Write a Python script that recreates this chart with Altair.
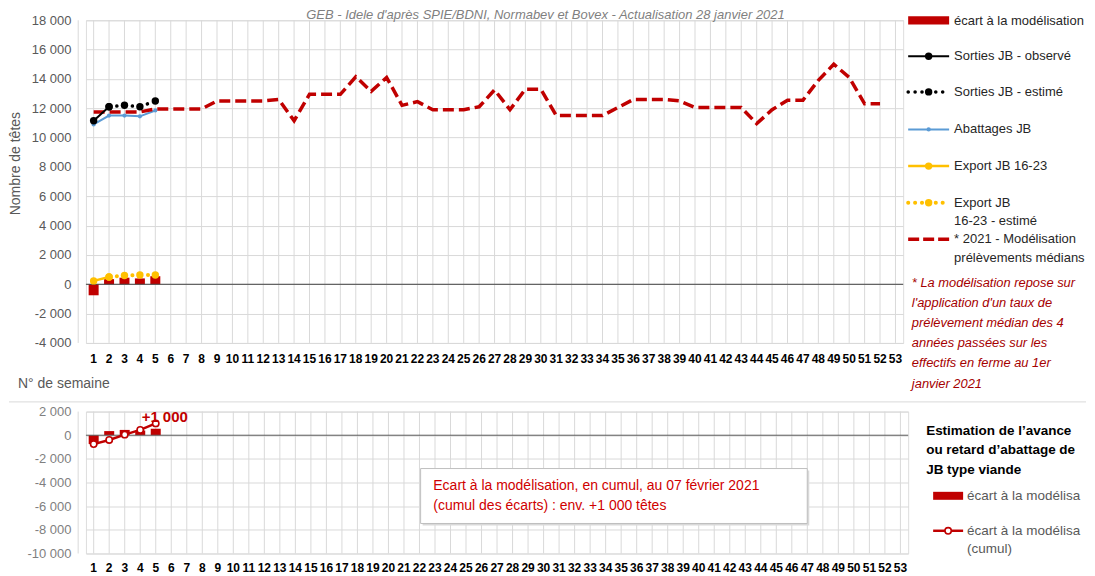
import altair as alt
import pandas as pd

# ---------------- data ----------------
weeks = list(range(1, 54))
model_weeks = list(range(1, 53))
model = [11750, 11750, 11750, 11750, 11950, 11950, 11950, 11950,
         12500, 12500, 12500, 12500, 12600, 11150, 12950, 12950,
         12950, 14150, 13150, 14100, 12200, 12450, 11900, 11900,
         11900, 12100, 13250, 11900, 13300, 13300, 11500, 11500,
         11500, 11500, 12050, 12600, 12600, 12600, 12500, 12050,
         12050, 12050, 12050, 10950, 11900, 12550, 12550, 13900,
         15000, 14100, 12300, 12300]
ecart_weeks = [1, 2, 3, 4, 5]
ecart = [-750, 350, 450, 400, 550]
cumul = [-750, -400, 50, 450, 1000]
sorties_obs_weeks = [1, 2]
sorties_obs = [11150, 12100]
sorties_est_weeks = [2, 3, 4, 5]
sorties_est = [12100, 12200, 12100, 12500]
abattages_weeks = [1, 2, 3, 4, 5]
abattages = [10900, 11500, 11500, 11450, 11850]
export_obs_weeks = [1, 2]
export_obs = [230, 500]
export_est_weeks = [2, 3, 4, 5]
export_est = [500, 600, 630, 630]

top_ticks = list(range(-4000, 18001, 2000))
bottom_ticks = list(range(-10000, 2001, 2000))

title_text = "GEB - Idele d'après SPIE/BDNI, Normabev et Bovex - Actualisation  28 janvier 2021"
top_legend_labels = ["écart à la modélisation", "Sorties JB - observé", "Sorties JB - estimé",
                     "Abattages JB", "Export JB 16-23", "Export JB\n16-23 - estimé",
                     "* 2021 - Modélisation\nprélèvements médians"]
footnote_lines = ["* La modélisation repose sur", "l'application  d'un taux de",
                  "prélèvement  médian des 4", "années  passées sur les",
                  "effectifs en ferme au 1er", "janvier 2021"]
bottom_legend_title = ["Estimation de l’avance", "ou retard d’abattage de", "JB type viande"]
bottom_legend_labels = ["écart à la modélisation", "écart à la modélisation\n(cumul)"]
box_lines = ["Ecart à la modélisation,  en cumul, au 07 février 2021",
             "(cumul des écarts) : env. +1 000 têtes"]
cumul_label = "+1 000"

# ---------------- style ----------------
FONT = "Liberation Sans"
RED = "#C00000"
BLUE = "#5B9BD5"
ORANGE = "#FFC000"
BLACK = "#000000"
GRID = "#d9d9d9"
LBL = "(datum.value < 0 ? '-' : '') + replace(format(abs(datum.value), ','), ',', ' ')"
TOP_W, TOP_H = 818, 323
BOT_W, BOT_H = 823, 142
RIGHT_EDGE = 1086 - 85  # last visible pixel, relative to plot origin

one = pd.DataFrame({"a": [0]})


def df(w, v):
    return pd.DataFrame({"week": w, "v": v})


def xenc(pad):
    return alt.X("week:O", scale=alt.Scale(domain=weeks, paddingInner=0, paddingOuter=0),
                 axis=alt.Axis(title=None, labelAngle=0, labelFont=FONT, labelFontSize=12,
                               labelFontWeight="bold", labelColor=BLACK, ticks=False, domain=False,
                               grid=False, labelPadding=pad, labelOverlap=False, labelBound=False))


def yenc(domain, ticks, color):
    return alt.Y("v:Q", scale=alt.Scale(domain=domain, nice=False, zero=False),
                 axis=alt.Axis(title=None, values=ticks, labelExpr=LBL, labelFont=FONT,
                               labelFontSize=13, labelColor=color, ticks=False, tickSize=0,
                               domain=False, grid=True, gridColor=GRID, labelPadding=15))


def vgrid(xe, bw):
    left = alt.Chart(pd.DataFrame({"week": weeks})).mark_rule(color=GRID, strokeWidth=1).encode(
        x=xe, xOffset=alt.value(-bw / 2))
    right = alt.Chart(pd.DataFrame({"week": [weeks[-1]]})).mark_rule(color=GRID, strokeWidth=1).encode(
        x=xe, xOffset=alt.value(bw / 2))
    return [left, right]


def vtext(txt, x, y, size, color, weight="normal", style="normal", align="left", angle=None, limit=None):
    kw = dict(text=txt, align=align, baseline="middle", fontSize=size, color=color,
              fontWeight=weight, fontStyle=style, font=FONT)
    if angle is not None:
        kw["angle"] = angle
    if limit is not None:
        kw["limit"] = limit
        kw["ellipsis"] = " "
    return alt.Chart(one).mark_text(**kw).encode(x=alt.value(x), y=alt.value(y))


def vrule(x1, x2, y, color, width, dash=None, cap="butt"):
    kw = dict(color=color, strokeWidth=width, strokeCap=cap)
    if dash:
        kw["strokeDash"] = dash
    return alt.Chart(one).mark_rule(**kw).encode(x=alt.value(x1), x2=alt.value(x2), y=alt.value(y))


def vpoint(x, y, size, fill, stroke=None, sw=0):
    kw = dict(shape="circle", filled=True, size=size, fill=fill, opacity=1)
    if stroke:
        kw["stroke"] = stroke
        kw["strokeWidth"] = sw
    else:
        kw["strokeWidth"] = 0
    return alt.Chart(one).mark_point(**kw).encode(x=alt.value(x), y=alt.value(y))


def vrect(x1, x2, y1, y2, fill, stroke=None):
    kw = dict(fill=fill)
    if stroke:
        kw["stroke"] = stroke
        kw["strokeWidth"] = 1
    return alt.Chart(one).mark_rect(**kw).encode(x=alt.value(x1), x2=alt.value(x2),
                                                 y=alt.value(y1), y2=alt.value(y2))


DOT = [0.1, 7.7]

# ---------------- top chart ----------------
xt = xenc(11)
yt = yenc([-4000, 18000], top_ticks, "#595959")

top_layers = vgrid(xt, TOP_W / 53) + [
    alt.Chart(df(ecart_weeks, ecart)).mark_bar(size=10, color=RED).encode(x=xt, y=yt),
    alt.Chart(df([1], [0])).mark_rule(color="#404040", strokeWidth=1).encode(y=yt),
    alt.Chart(df(abattages_weeks, abattages)).mark_line(color=BLUE, strokeWidth=2).encode(x=xt, y=yt),
    alt.Chart(df(abattages_weeks, abattages)).mark_point(shape="circle", filled=True, size=18,
                                                         color=BLUE, opacity=1).encode(x=xt, y=yt),
    alt.Chart(df(model_weeks, model)).mark_line(color=RED, strokeWidth=3.5, strokeDash=[11, 5]).encode(x=xt, y=yt),
    alt.Chart(df(export_obs_weeks, export_obs)).mark_line(color=ORANGE, strokeWidth=2.5).encode(x=xt, y=yt),
    alt.Chart(df(export_est_weeks, export_est)).mark_line(color=ORANGE, strokeWidth=4, strokeDash=DOT,
                                                          strokeCap="round").encode(x=xt, y=yt),
    alt.Chart(df(export_obs_weeks + export_est_weeks, export_obs + export_est)).mark_point(
        shape="circle", filled=True, size=55, color=ORANGE, opacity=1).encode(x=xt, y=yt),
    alt.Chart(df(sorties_obs_weeks, sorties_obs)).mark_line(color=BLACK, strokeWidth=2).encode(x=xt, y=yt),
    alt.Chart(df(sorties_est_weeks, sorties_est)).mark_line(color=BLACK, strokeWidth=3.5, strokeDash=DOT,
                                                            strokeCap="round").encode(x=xt, y=yt),
    alt.Chart(df(sorties_obs_weeks + sorties_est_weeks, sorties_obs + sorties_est)).mark_point(
        shape="circle", filled=True, size=55, color=BLACK, opacity=1).encode(x=xt, y=yt),
]

# title, axis titles, separator
top_layers += [
    vtext(title_text, 460, -5, 13, "#7f7f7f", style="italic", align="center"),
    vtext("Nombre de têtes", -70, 143.5, 14, "#595959", align="center", angle=270),
    vtext("N° de semaine", -68, 364, 14, "#595959"),
    vrule(-77, RIGHT_EDGE, 382, GRID, 1),
]

# top legend
LX0, LX1, LXM, LXT = 823, 864, 843.5, 869
rows = [0.3, 36, 71.7, 109.3, 146, 182.7, 219.3]
top_layers.append(vrect(LX0, LX1, -4, 4.3, RED))
top_layers += [vrule(LX0, LX1, rows[1], BLACK, 2), vpoint(LXM, rows[1], 55, BLACK)]
top_layers += [vrule(LX0, LX1, rows[2], BLACK, 3.5, [0.1, 6.8], "round"), vpoint(LXM, rows[2], 55, BLACK)]
top_layers += [vrule(LX0, LX1, rows[3], BLUE, 2), vpoint(LXM, rows[3], 18, BLUE)]
top_layers += [vrule(LX0, LX1, rows[4], ORANGE, 2.5), vpoint(LXM, rows[4], 55, ORANGE)]
top_layers += [vrule(LX0, LX1, rows[5], ORANGE, 4, [0.1, 6.8], "round"), vpoint(LXM, rows[5], 55, ORANGE)]
top_layers += [vrule(LX0, LX1, rows[6], RED, 3.5, [11, 4])]
for lab, ry in zip(top_legend_labels, rows):
    for i, line in enumerate(lab.split("\n")):
        top_layers.append(vtext(line, LXT, ry + i * 18.4, 13, "#262626", limit=RIGHT_EDGE - LXT))
for i, line in enumerate(footnote_lines):
    top_layers.append(vtext(line, 826.7, 262.7 + i * 20.2, 12.9, "#A50000", style="italic",
                            limit=RIGHT_EDGE - 826.7))

top = alt.layer(*top_layers).properties(width=TOP_W, height=TOP_H)

# ---------------- bottom chart ----------------
xb = xenc(9)
yb = yenc([-10000, 2000], bottom_ticks, "#7f7f7f")

bottom_layers = vgrid(xb, BOT_W / 53) + [
    alt.Chart(df(ecart_weeks, ecart)).mark_bar(size=10, color=RED).encode(x=xb, y=yb),
    alt.Chart(df([1], [0])).mark_rule(color="#595959", strokeWidth=1).encode(y=yb),
    alt.Chart(df(ecart_weeks, cumul)).mark_line(color=RED, strokeWidth=2.5).encode(x=xb, y=yb),
    alt.Chart(df(ecart_weeks, cumul)).mark_point(shape="circle", filled=True, size=40, fill="white",
                                                 stroke=RED, strokeWidth=1.6, opacity=1).encode(x=xb, y=yb),
    alt.Chart(df([5], [cumul[-1]])).mark_text(text=cumul_label, fontSize=15, fontWeight="bold", color=RED,
                                               align="center", baseline="middle", dx=9, dy=-6,
                                               font=FONT).encode(x=xb, y=yb),
    # annotation box
    vrect(337, 724, 59, 114, "#d9d9d9"),
    vrect(335, 722, 57, 112, "white", "#bfbfbf"),
]
for i, line in enumerate(box_lines):
    bottom_layers.append(vtext(line, 347.7, 74.3 + i * 20, 14, "#D00000"))
for i, line in enumerate(bottom_legend_title):
    bottom_layers.append(vtext(line, 841, 19.3 + i * 19.5, 13.5, BLACK, weight="bold"))
BL_LIMIT = RIGHT_EDGE - 882
bottom_layers.append(vrect(848, 878, 80.3, 88.3, RED))
bottom_layers.append(vrule(848, 878, 119.3, RED, 2.5))
bottom_layers.append(vpoint(863, 119.3, 40, "white", RED, 1.6))
bottom_layers.append(vtext(bottom_legend_labels[0], 882, 84.3, 13.5, "#595959", limit=BL_LIMIT))
for i, line in enumerate(bottom_legend_labels[1].split("\n")):
    bottom_layers.append(vtext(line, 882, 119.3 + i * 18, 13.5, "#595959", limit=BL_LIMIT))

bottom = alt.layer(*bottom_layers).properties(width=BOT_W, height=BOT_H)

chart = alt.vconcat(top, bottom, spacing=68.7, bounds="flush").properties(
    padding={"left": 0, "top": 0, "right": 0, "bottom": 0}
).configure_view(stroke=None).configure(font=FONT)

chart.save("out.html", embed_options={"renderer": "svg", "actions": False})
